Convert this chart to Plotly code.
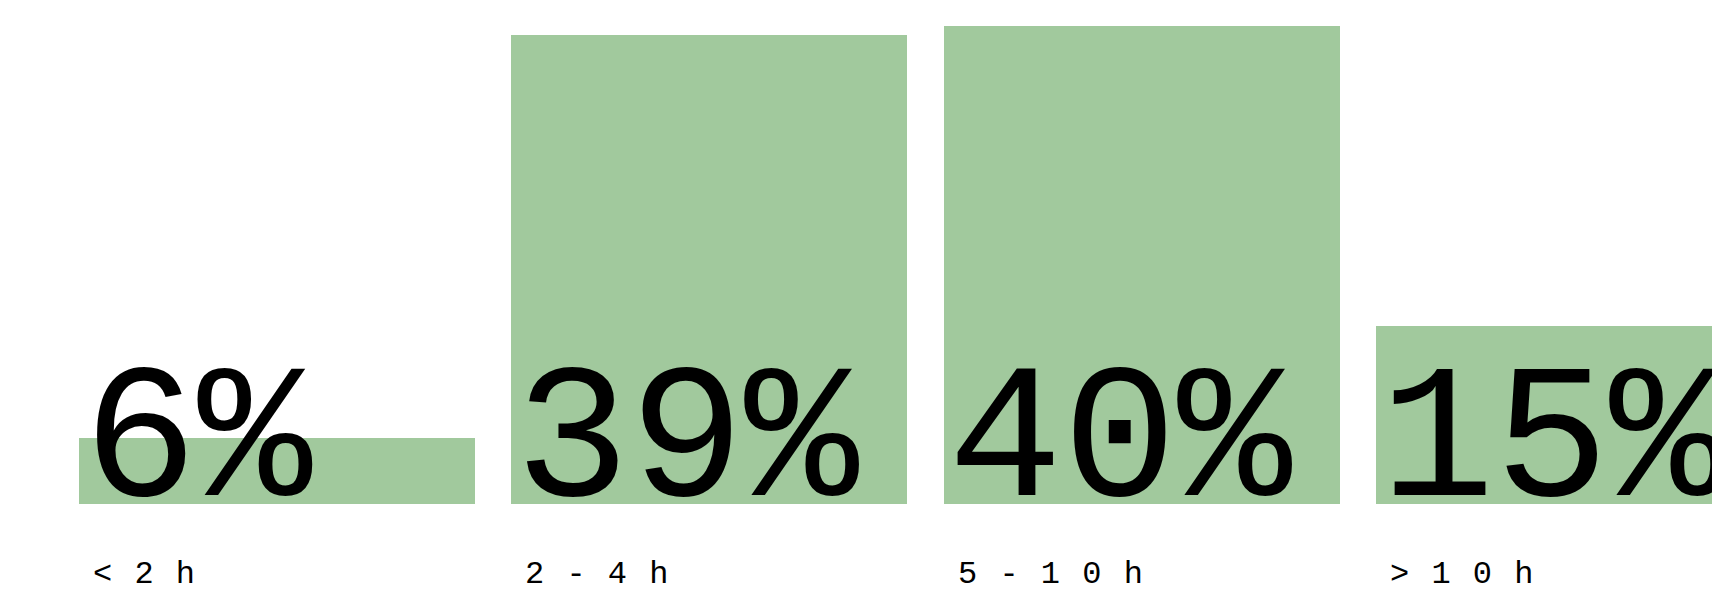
import plotly.graph_objects as go

categories = ["<2h", "2-4h", "5-10h", ">10h"]
values = [5.5, 39.2, 40.0, 14.9]
value_labels = ["6%", "39%", "40%", "15%"]

BAR_COLOR = "#a1c99d"
BAR_WIDTH = 0.916
FONT = "Liberation Mono"

x_pos = list(range(len(categories)))

fig = go.Figure()
fig.add_trace(go.Bar(
    x=x_pos, y=values, width=BAR_WIDTH,
    marker=dict(color=BAR_COLOR, line=dict(width=0)),
    hoverinfo="skip", showlegend=False,
))

# letter spacing for the category labels: a normal space plus a tiny extra space
gap = " <span style='font-size:5px'> </span>"
for i, (cat, lab) in enumerate(zip(categories, value_labels)):
    left = x_pos[i] - BAR_WIDTH / 2
    fig.add_annotation(
        x=left, y=0, xref="x", yref="y", text=lab, showarrow=False,
        xanchor="left", yanchor="bottom", xshift=2, yshift=-50,
        font=dict(family=FONT, size=191, color="#000000"),
    )
    chars = [c.replace("<", "&lt;").replace(">", "&gt;") for c in cat]
    fig.add_annotation(
        x=left, y=0, xref="x", yref="y", text=gap.join(chars), showarrow=False,
        xanchor="left", yanchor="top", xshift=12, yshift=-50,
        font=dict(family=FONT, size=32, color="#000000"),
    )

fig.update_layout(
    width=1712, height=592,
    margin=dict(l=0, r=0, t=0, b=88),
    paper_bgcolor="white", plot_bgcolor="white",
    xaxis=dict(range=[-0.6408, 3.3194], visible=False, fixedrange=True),
    yaxis=dict(range=[0, 42.15], visible=False, fixedrange=True),
    bargap=0,
)

fig.write_html("out.html", config={"displayModeBar": False})
